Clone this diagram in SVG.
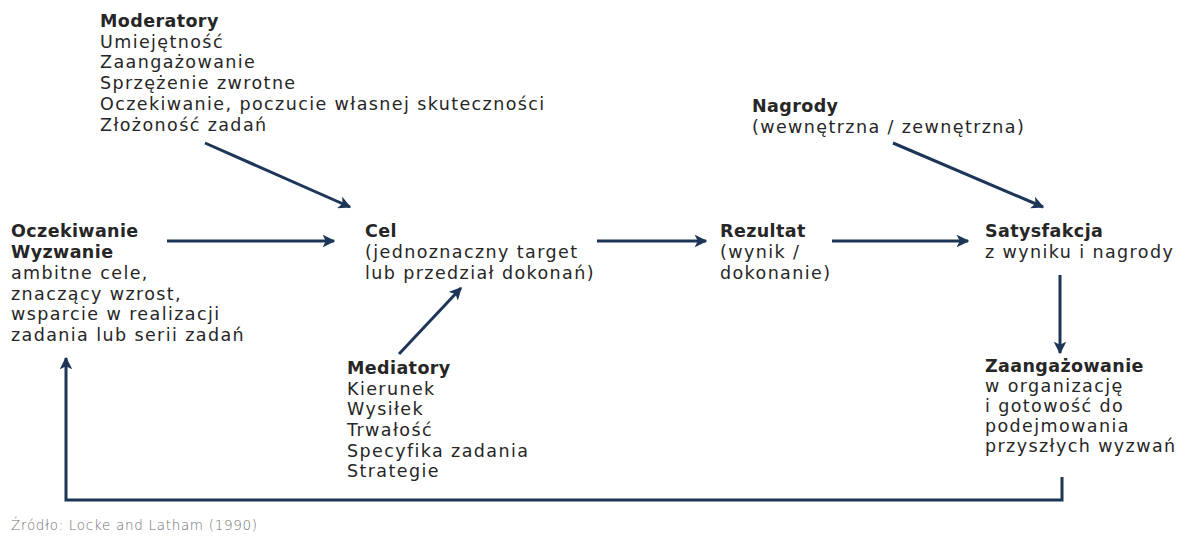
<svg xmlns="http://www.w3.org/2000/svg" width="1188" height="536" viewBox="0 0 1188 536">
<defs>
<marker id="ah" viewBox="0 0 10 10" refX="9" refY="5" markerWidth="4.2" markerHeight="4.2" orient="auto" markerUnits="strokeWidth">
<path d="M0,0 L10,5 L0,10 L2.5,5 z" fill="#1d3557"/>
</marker>
<style>
text{font-family:"DejaVu Sans","Noto Sans","Liberation Sans",sans-serif;font-size:17.5px;fill:#262626;letter-spacing:1.4px}
.b{font-weight:700;letter-spacing:0.4px}
.c{fill:none;stroke:#1d3557;stroke-width:3}
.src{font-size:13.5px;fill:#707070;font-weight:300;letter-spacing:0.7px}
</style>
</defs>
<rect width="1188" height="536" fill="#fff"/>
<g id="connectors">
<line class="c" x1="205" y1="143" x2="350" y2="207" marker-end="url(#ah)"/>
<line class="c" x1="167" y1="241" x2="334" y2="241" marker-end="url(#ah)"/>
<line class="c" x1="597" y1="241" x2="706" y2="241" marker-end="url(#ah)"/>
<line class="c" x1="399" y1="354" x2="461" y2="288" marker-end="url(#ah)"/>
<line class="c" x1="832" y1="241" x2="968" y2="241" marker-end="url(#ah)"/>
<line class="c" x1="893" y1="143" x2="1043" y2="207" marker-end="url(#ah)"/>
<line class="c" x1="1060" y1="275" x2="1060" y2="353" marker-end="url(#ah)"/>
<polyline class="c" points="1062,477 1062,500 66,500 66,358" marker-end="url(#ah)"/>
</g>
<g id="moderatory">
<text x="100" y="27" class="b">Moderatory</text>
<text x="100" y="48">Umiejętność</text>
<text x="100" y="68">Zaangażowanie</text>
<text x="100" y="89">Sprzężenie zwrotne</text>
<text x="100" y="110">Oczekiwanie, poczucie własnej skuteczności</text>
<text x="100" y="131">Złożoność zadań</text>
</g>
<g id="oczekiwanie">
<text x="11" y="237" class="b">Oczekiwanie</text>
<text x="11" y="258" class="b">Wyzwanie</text>
<text x="11" y="279">ambitne cele,</text>
<text x="11" y="300">znaczący wzrost,</text>
<text x="11" y="320">wsparcie w realizacji</text>
<text x="11" y="341">zadania lub serii zadań</text>
</g>
<g id="cel">
<text x="365" y="237" class="b">Cel</text>
<text x="365" y="258">(jednoznaczny target</text>
<text x="365" y="279">lub przedział dokonań)</text>
</g>
<g id="mediatory">
<text x="347" y="374" class="b">Mediatory</text>
<text x="347" y="395">Kierunek</text>
<text x="347" y="415">Wysiłek</text>
<text x="347" y="436">Trwałość</text>
<text x="347" y="457">Specyfika zadania</text>
<text x="347" y="477">Strategie</text>
</g>
<g id="rezultat">
<text x="720" y="237" class="b">Rezultat</text>
<text x="720" y="258">(wynik /</text>
<text x="720" y="279">dokonanie)</text>
</g>
<g id="nagrody">
<text x="752" y="112" class="b">Nagrody</text>
<text x="752" y="133">(wewnętrzna / zewnętrzna)</text>
</g>
<g id="satysfakcja">
<text x="985" y="237" class="b">Satysfakcja</text>
<text x="985" y="258">z wyniku i nagrody</text>
</g>
<g id="zaangazowanie">
<text x="985" y="372" class="b">Zaangażowanie</text>
<text x="985" y="392">w organizację</text>
<text x="985" y="412">i gotowość do</text>
<text x="985" y="432">podejmowania</text>
<text x="985" y="452">przyszłych wyzwań</text>
</g>
<g id="zrodlo">
<text x="11" y="530" class="src">Źródło: Locke and Latham (1990)</text>
</g>
</svg>
